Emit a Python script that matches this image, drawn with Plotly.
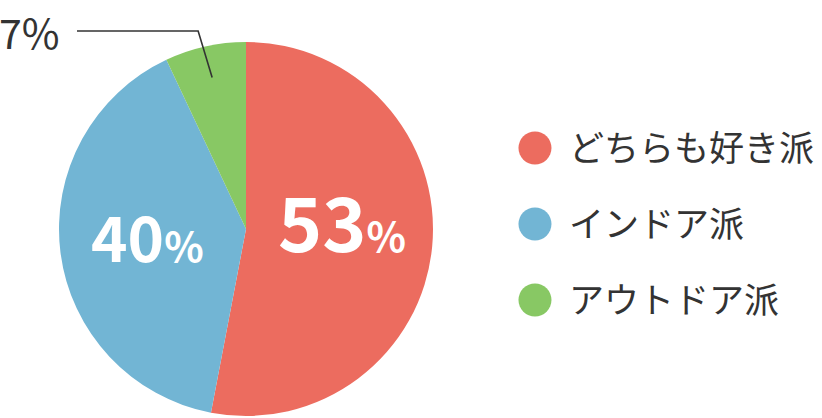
import math
import plotly.graph_objects as go

categories = ["どちらも好き派", "インドア派", "アウトドア派"]
values = [53, 40, 7]
colors = ["#EC6C5F", "#72B5D4", "#88C864"]

W, H = 822, 418
FONT = "Noto Sans CJK JP"
TXT = "#333333"

# pie placement (pixels)
cx, cy, R = 246, 229, 187
dom_x = [(cx - R) / W, (cx + R) / W]
dom_y = [1 - (cy + R) / H, 1 - (cy - R) / H]

fig = go.Figure()
fig.add_trace(go.Pie(
    labels=categories, values=values, sort=False, direction="clockwise",
    rotation=0, marker=dict(colors=colors, line=dict(width=0)),
    textinfo="none", hoverinfo="label+percent", showlegend=False,
    domain=dict(x=dom_x, y=dom_y),
))

total = sum(values)
mids = []
acc = 0
for v in values:
    mids.append((acc + v / 2) / total * 2 * math.pi)
    acc += v

def px_at(theta, frac):
    return cx + math.sin(theta) * R * frac, cy - math.cos(theta) * R * frac

annotations = []
shapes = []
# inside labels: (radius fraction, number font, % font, xshift, yshift)
inside_cfg = {0: (0.51, 75, 41, 1, 18), 1: (0.54, 62, 41, 2, 7)}
for i, (frac, big, small, xs, ys) in inside_cfg.items():
    x, y = px_at(mids[i], frac)
    annotations.append(dict(
        x=x / W, y=1 - y / H, xref="paper", yref="paper",
        text=f"<b>{values[i]}</b><span style='font-size:{small}px'><b>%</b></span>",
        showarrow=False, xanchor="center", yanchor="middle", xshift=xs, yshift=ys,
        font=dict(family=FONT, size=big, color="white"),
    ))

# outside label for smallest slice with leader line
ex, ey = px_at(mids[2], 0.83)
elbow_y = 31
elbow_x = ex - 14
path = f"M {77/W} {1-elbow_y/H} L {elbow_x/W} {1-elbow_y/H} L {ex/W} {1-ey/H}"
shapes.append(dict(type="path", xref="paper", yref="paper", path=path,
                   line=dict(color=TXT, width=1.6)))
annotations.append(dict(
    x=0, y=1 - elbow_y / H, xref="paper", yref="paper",
    text=f"{values[2]}%", showarrow=False, xanchor="left", yanchor="middle",
    xshift=-3, font=dict(family=FONT, size=41, color=TXT),
))

# custom legend with circular markers
idx = list(range(len(categories)))
fig.add_trace(go.Scatter(
    x=[0] * len(categories), y=idx, mode="markers",
    marker=dict(size=33, color=colors, line=dict(width=0)),
    showlegend=False, hoverinfo="skip", xaxis="x", yaxis="y",
))
for i, c in enumerate(categories):
    annotations.append(dict(
        x=0, y=i, xref="x", yref="y", text=c, showarrow=False,
        xanchor="left", yanchor="middle", xshift=32, yshift=2,
        font=dict(family=FONT, size=35, color=TXT),
    ))

fig.update_layout(
    width=W, height=H, margin=dict(l=0, r=0, t=0, b=0),
    paper_bgcolor="white", plot_bgcolor="rgba(0,0,0,0)",
    xaxis=dict(domain=[0.6, 1], range=[-1, 6.87], visible=False, fixedrange=True),
    yaxis=dict(domain=[0, 1], range=[3.553, -1.947], visible=False, fixedrange=True),
    annotations=annotations, shapes=shapes,
    font=dict(family=FONT, color=TXT),
)

fig.write_html("out.html", config={"displayModeBar": False},
               post_script="document.body.style.margin='0px';")
